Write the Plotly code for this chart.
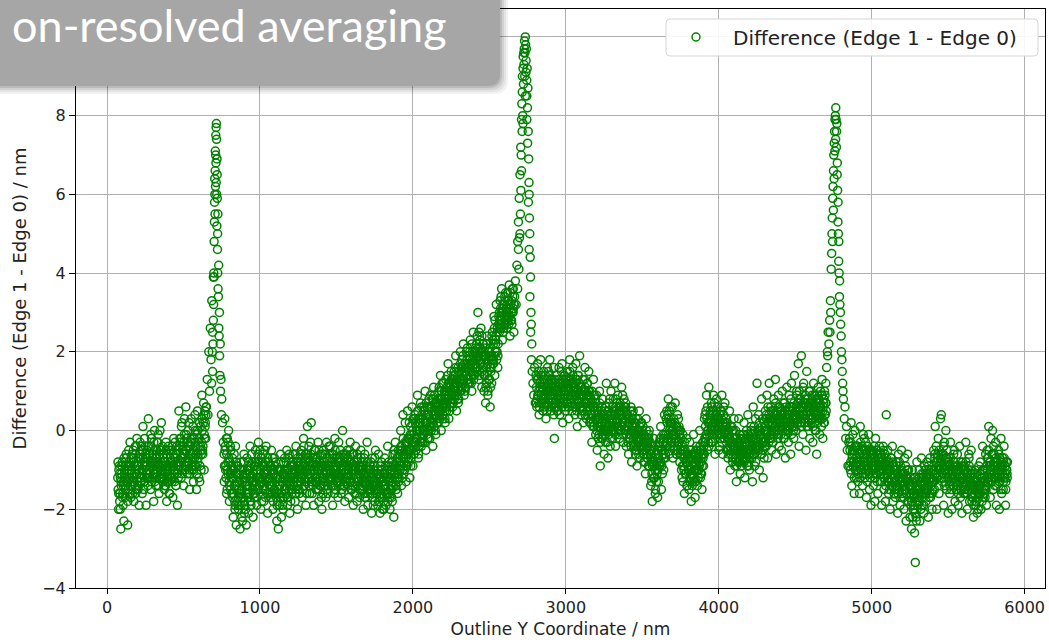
import plotly.graph_objects as go

# ---------------- data ----------------
STEP_NM = 5      # sampling step along the outline, nm
OFFSET_2 = 2.5   # second interleaved pass of samples, nm
OFFSET_3 = 1.25  # third interleaved pass of samples, nm

base_a_start = 70
base_a_y = [
    -1.2, -2.0, -0.9, -1.6, -2.5, -1.1, -0.8, -1.9, -2.3, -1.0,
    -1.5, -0.6, -1.3, -2.4, -0.9, -1.2, -0.3, -1.7, -1.0, -1.4,
    -0.7, -1.8, -1.1, -0.4, -1.5, -0.2, -1.3, -0.9, -1.9, -0.6,
    -1.2, -0.5, -1.6, 0.1, -0.8, -1.3, -0.4, -1.9, -0.7, -1.1,
    0.3, -1.0, -0.6, -1.5, -0.2, -1.2, -0.8, -1.8, 0.0, -0.9,
    -1.4, -0.5, -1.0, -0.1, -1.6, -0.7, -1.2, 0.2, -0.9, -1.3,
    -0.6, -1.5, -1.1, -0.3, -1.8, -0.9, -1.3, -0.5, -1.6, -1.0,
    -1.2, -0.4, -1.7, -0.8, -1.0, -0.3, -1.4, -0.6, -1.9, -0.9,
    0.5, -0.9, -0.3, -1.2, 0.2, -0.7, -1.4, -0.1, -0.8, 0.6,
    -0.5, -1.1, 0.0, -0.8, -1.5, -0.3, 0.3, -1.0, -0.6, -1.3,
    -0.2, 0.4, -0.9, -1.5, 0.0, -0.6, -1.2, 0.2, -0.4, -1.0,
    0.9, -0.5, 0.2, -1.0, 0.5, -0.2,
]
base_a_y2 = [
    -1.5, -1.0, -1.8, -1.2, -1.4, -0.9, -1.6, -1.3, -1.1, -1.7,
    -0.9, -1.3, -1.0, -1.5, -0.8, -1.2, -1.4, -0.7, -1.1, -1.6,
    -1.2, -0.8, -1.4, -0.6, -1.1, -0.9, -1.5, -1.0, -0.7, -1.3,
    -0.7, -1.1, -0.5, -1.0, -1.3, -0.8, -0.6, -1.2, -0.9, -1.4,
    -1.0, -0.6, -1.2, -0.4, -0.9, -0.7, -1.1, -0.5, -1.3, -0.8,
    -0.6, -1.0, -0.3, -0.9, -1.2, -0.5, -0.8, -1.1, -0.4, -0.7,
    -1.2, -0.8, -1.4, -1.0, -0.6, -1.1, -0.9, -1.3, -0.7, -1.2,
    -0.8, -1.2, -0.6, -1.0, -1.3, -0.7, -0.9, -1.1, -0.5, -1.0,
    -0.4, -0.8, -0.2, -0.7, -0.5, -1.0, -0.3, -0.6, -0.9, -0.1,
    -0.8, -0.3, -0.7, -1.0, -0.4, -0.6, -0.9, -0.2, -0.7, -0.5,
    -0.7, -0.3, -0.6, -0.1, -0.8, -0.4, -0.2, -0.9, -0.5, -0.3,
    0.0, -0.4, 0.4, -0.2, 0.2, 0.6,
]
base_a_y3 = [
    -0.8, -1.6, -1.1, -2.0, -1.3, -0.9, -1.7, -1.4, -0.7, -1.2,
    -1.4, -0.7, -1.2, -1.8, -0.5, -1.0, -1.6, -0.9, -1.3, -0.6,
    -0.5, -1.3, -0.9, -1.6, -0.4, -1.1, -0.7, -1.4, -1.0, -0.3,
    -1.3, -0.4, -1.0, -0.7, -1.5, -0.2, -0.9, -1.1, -0.5, -1.2,
    -0.4, -1.2, -0.8, -0.1, -1.3, -0.6, -1.0, -0.3, -1.1, -0.7,
    -1.1, -0.3, -0.8, -1.4, -0.6, 0.0, -1.0, -0.5, -1.2, -0.9,
    -0.7, -1.4, -0.9, -0.5, -1.3, -1.0, -0.4, -1.6, -1.1, -0.8,
    -0.5, -1.3, -0.9, -0.2, -1.1, -0.7, -1.4, -0.4, -0.8, -1.2,
    -0.9, -0.2, -0.7, 0.1, -1.1, -0.4, -0.6, 0.3, -1.0, -0.5,
    -0.2, -0.9, -0.4, 0.2, -1.1, -0.6, -0.3, -0.8, 0.1, -1.0,
    -0.9, 0.0, -0.4, -1.1, 0.5, -0.7, -0.2, -1.3, 0.1, -0.6,
    0.3, -0.6, 0.7, -0.1, 0.1, 0.4,
]

peak_a_start = 650
peak_a_y = [
    0.6, 1.3, 0.4, 2.0, 1.0, 2.6, 1.8, 3.3, 2.5, 3.9, 4.8, 6.0,
    7.0, 7.8, 6.5, 5.5, 4.2, 3.0, 2.2, 1.3, 0.8, 0.2, -0.3,
]

base_b_start = 765
base_b_y = [
    -0.6, 0.3, -1.0, -0.2, -1.5, -0.8, 0.0, -1.8, -1.1, -0.5,
    -1.6, -0.7, -2.2, -1.0, -1.8, -0.4, -2.4, -1.3, -0.9, -2.0,
    -1.1, -2.5, -0.8, -1.7, -2.3, -1.2, -0.6, -1.9, -1.4, -2.4,
    -0.7, -1.5, -2.1, -1.0, -0.4, -1.8, -1.2, -0.8, -2.2, -1.3,
    -1.6, -0.5, -1.2, -1.9, -0.8, -0.3, -1.4, -1.0, -2.0, -0.7,
    -1.3, -0.6, -1.8, -0.9, -1.5, -0.4, -1.1, -2.1, -0.8, -1.4,
    -0.9, -1.7, -0.5, -1.3, -2.0, -1.0, -0.7, -1.6, -1.2, -2.3,
    -1.8, -2.5, -1.0, -1.4, -0.6, -2.2, -1.1, -1.7, -0.8, -1.5,
    -1.0, -1.6, -0.5, -1.9, -1.2, -0.7, -2.1, -1.3, -0.9, -1.5,
    -0.6, -1.4, -1.0, -1.8, -0.4, -1.2, -2.0, -0.8, -1.5, -1.1,
    -1.3, -0.5, -1.7, -0.9, -0.2, -1.4, -1.0, -1.9, -0.6, 0.1,
    -1.1, -0.4, -1.6, -0.8, 0.2, -1.3, -0.7, -1.9, -1.0, -0.5,
    -1.5, -0.8, -1.2, -0.3, -1.8, -1.0, -0.6, -1.4, -2.0, -0.9,
    -0.5, -1.3, -0.9, -1.7, -0.3, -1.1, -1.6, -0.7, -1.2, -0.4,
    -1.4, -0.8, -1.9, -0.6, -1.1, -0.2, -1.5, -1.0, -0.7, -1.7,
    -0.3, -1.2, -0.8, -1.6, -1.0, 0.0, -1.4, -0.6, -1.8, -0.9,
    -1.3, -0.5, -1.1, -1.7, -0.8, -0.3, -1.5, -1.0, -0.6, -1.9,
    -1.0, -1.6, -0.4, -1.2, -1.8, -0.7, -1.3, -0.9, -1.5, -0.5,
    -1.4, -0.8, -2.0, -1.1, -0.6, -1.7, -1.3, -0.3, -1.9, -1.0,
    -1.5, -0.9, -1.2, -2.1, -0.7, -1.4, -1.0, -1.8, -0.5, -1.3,
    -1.1, -1.9, -0.6, -1.5, -2.1, -1.2, -0.8, -1.7, -1.4, -2.0,
    -0.7, -1.4, -1.9, -1.0, -0.4, -1.6, -1.2, -2.0, -0.9, -1.5,
    -1.8, -0.6, -2.2, -1.1, -0.3, -1.4, -0.8, -1.6, -0.5, -1.2,
    -0.9, 0.0, -1.4, -0.5, 0.4, -1.1, -0.6, 0.2, -1.3, -0.3,
    0.5, -0.8, -0.2, -1.2, 0.1, -0.5, 0.6, -0.9, -0.1, 0.3,
    0.4, -0.5, 0.0, 0.9, -0.7, 0.2, -0.3, 0.7, -0.4, 0.1,
    -0.3, 0.6, 0.0, 1.0, -0.5, 0.4, 0.2, -0.2, 0.8, 0.1,
    0.9, 0.0, 0.5, -0.4, 1.1, 0.3, 0.7, -0.1, 0.6, 0.2,
    0.2, 1.0, 0.5, 1.4, 0.0, 0.8, 0.4, 1.2, 0.7, 0.3,
    1.3, 0.5, 1.0, 1.7, 0.3, 1.1, 0.7, 1.5, 0.9, 0.6,
    0.7, 1.5, 1.0, 1.9, 0.5, 1.2, 1.6, 0.8, 1.3, 2.0,
    1.0, 1.8, 1.3, 2.2, 0.9, 1.5, 1.1, 2.0, 1.6, 1.2,
    1.9, 1.2, 2.3, 1.5, 1.0, 1.8, 2.5, 1.4, 1.7, 2.1,
    1.5, 2.4, 3.0, 1.3, 2.0, 1.7, 2.6, 1.1, 1.9, 2.2,
    1.0, 2.1, 0.7, 1.6, 2.4, 0.9, 1.3, 2.0, 0.6, 1.5,
    1.2, 2.5, 1.8, 2.9, 1.4, 2.2, 3.2, 2.0, 1.6, 2.7,
    2.5, 3.3, 2.7, 3.6, 2.3, 3.0, 2.6, 3.4, 2.8, 3.1,
    2.6, 3.5, 2.9, 3.7, 2.4, 3.2, 2.8, 3.6, 3.0, 2.5,
]
base_b_y2 = [
    -0.9, -0.4, -1.2, -0.6, -1.0, -0.3, -1.3, -0.8, -1.5, -1.1,
    -1.2, -1.6, -1.0, -1.4, -1.9, -1.1, -1.5, -0.9, -1.7, -1.3,
    -1.6, -1.2, -1.9, -1.5, -1.0, -1.7, -2.1, -1.3, -1.6, -1.1,
    -1.4, -1.0, -1.6, -1.2, -1.8, -0.9, -1.3, -1.5, -1.1, -1.7,
    -0.9, -1.3, -1.0, -1.5, -1.2, -0.8, -1.4, -1.1, -0.7, -1.3,
    -1.2, -0.9, -1.4, -1.1, -0.8, -1.3, -1.6, -1.0, -1.2, -0.9,
    -1.4, -1.0, -1.3, -1.6, -1.1, -1.5, -0.9, -1.2, -1.7, -1.0,
    -1.2, -1.6, -1.4, -1.0, -1.7, -1.3, -1.9, -1.1, -1.5, -1.2,
    -1.4, -1.1, -1.7, -1.0, -1.3, -1.5, -0.9, -1.2, -1.6, -1.1,
    -1.3, -0.9, -1.2, -1.5, -1.0, -0.8, -1.4, -1.1, -1.6, -1.0,
    -0.8, -1.2, -0.7, -1.1, -1.4, -0.9, -0.6, -1.3, -1.0, -0.7,
    -1.2, -0.8, -1.1, -0.6, -1.3, -0.9, -1.4, -1.0, -0.7, -1.2,
    -0.9, -1.3, -1.0, -1.5, -0.8, -1.2, -1.4, -0.9, -1.1, -1.6,
    -1.1, -0.8, -1.3, -1.0, -0.7, -1.4, -0.9, -1.2, -0.6, -1.1,
    -0.8, -1.2, -1.0, -1.4, -0.7, -1.1, -0.9, -1.3, -1.2, -0.8,
    -1.1, -0.7, -1.3, -0.9, -1.2, -0.6, -1.0, -1.4, -0.8, -1.1,
    -0.9, -1.2, -0.7, -1.0, -1.3, -0.8, -1.1, -0.6, -1.4, -1.0,
    -1.3, -0.9, -1.2, -0.8, -1.4, -1.0, -1.1, -1.5, -0.9, -1.2,
    -1.0, -1.4, -1.1, -1.6, -1.3, -0.9, -1.2, -1.5, -1.0, -1.4,
    -1.3, -1.0, -1.5, -1.2, -1.7, -1.1, -0.9, -1.4, -1.2, -1.6,
    -1.5, -1.1, -1.4, -1.7, -1.2, -1.6, -1.0, -1.3, -1.8, -1.2,
    -1.1, -1.5, -1.2, -1.6, -0.9, -1.3, -1.7, -1.1, -1.4, -1.0,
    -1.3, -0.9, -1.1, -0.6, -1.4, -1.0, -1.2, -0.7, -1.1, -0.8,
    -0.5, -0.9, -0.4, -1.0, -0.6, -0.8, -0.3, -0.7, -0.9, -0.5,
    -0.6, -0.2, -0.5, -0.1, -0.7, -0.3, 0.0, -0.4, -0.6, -0.2,
    -0.3, 0.1, -0.2, 0.3, -0.4, 0.0, 0.2, -0.3, 0.4, -0.1,
    0.3, -0.1, 0.5, 0.0, 0.2, 0.6, -0.2, 0.4, 0.1, 0.3,
    0.2, 0.6, 0.3, 0.8, 0.1, 0.5, 0.4, 0.7, 0.2, 0.5,
    0.8, 0.4, 0.7, 0.5, 1.0, 0.6, 0.3, 0.9, 0.5, 0.8,
    0.7, 1.1, 0.8, 1.2, 0.9, 0.6, 1.0, 1.3, 0.8, 1.1,
    1.2, 0.9, 1.4, 1.0, 1.3, 0.8, 1.1, 1.5, 1.2, 1.0,
    1.3, 1.6, 1.2, 1.5, 1.7, 1.1, 1.4, 1.8, 1.3, 1.6,
    1.5, 1.8, 1.4, 1.7, 2.0, 1.6, 1.3, 1.9, 1.6, 1.8,
    1.9, 1.6, 2.1, 1.8, 2.3, 1.7, 2.0, 1.5, 2.2, 1.9,
    1.8, 1.4, 1.9, 1.2, 1.7, 2.0, 1.3, 1.6, 1.1, 1.8,
    1.9, 2.3, 1.7, 2.6, 2.0, 2.4, 1.8, 2.5, 2.2, 2.7,
    2.8, 3.1, 2.6, 3.0, 3.2, 2.7, 2.9, 3.3, 3.0, 2.8,
    3.1, 2.8, 3.3, 2.9, 3.2, 3.0, 2.7, 3.4, 3.1, 3.2,
]
base_b_y3 = [
    -1.3, -0.5, -0.9, -1.6, -0.2, -1.1, -0.7, -1.4, -0.4, -1.0,
    -0.9, -1.7, -1.2, -0.6, -2.0, -1.4, -0.8, -1.1, -1.9, -1.5,
    -1.9, -1.0, -1.6, -2.2, -1.3, -0.8, -1.8, -1.1, -2.0, -1.4,
    -1.0, -1.7, -0.8, -1.4, -1.1, -1.9, -0.6, -1.3, -1.6, -0.9,
    -1.4, -0.8, -1.7, -1.0, -0.6, -1.5, -1.2, -0.5, -1.3, -1.8,
    -0.8, -1.5, -1.1, -0.5, -1.7, -1.0, -1.3, -0.7, -1.6, -1.2,
    -1.6, -0.9, -1.4, -0.7, -1.8, -1.1, -1.5, -0.8, -1.3, -1.9,
    -1.0, -1.5, -1.9, -1.2, -0.8, -1.6, -1.3, -2.0, -1.1, -0.7,
    -1.5, -0.8, -1.3, -1.7, -1.0, -0.6, -1.4, -1.8, -1.1, -0.9,
    -0.8, -1.4, -1.1, -0.6, -1.6, -1.2, -0.7, -1.5, -0.9, -1.3,
    -1.2, -0.6, -1.0, -1.5, -0.4, -1.1, -1.3, -0.7, -1.6, -0.9,
    -0.7, -1.4, -0.9, -0.3, -1.2, -1.6, -0.8, -1.1, -0.5, -1.3,
    -1.3, -0.7, -1.5, -1.0, -0.5, -1.4, -0.9, -1.7, -1.2, -0.6,
    -0.8, -1.4, -0.6, -1.1, -1.5, -0.9, -1.2, -0.4, -1.3, -1.0,
    -1.2, -0.6, -1.4, -0.9, -1.6, -0.5, -1.0, -1.3, -0.8, -1.1,
    -0.8, -1.4, -0.5, -1.1, -1.5, -0.9, -1.2, -0.7, -1.3, -0.6,
    -1.2, -0.7, -1.4, -0.9, -0.5, -1.3, -0.8, -1.5, -1.0, -0.6,
    -0.8, -1.4, -1.0, -1.6, -0.6, -1.2, -0.9, -1.7, -1.1, -0.7,
    -1.5, -0.9, -1.3, -0.7, -1.7, -1.1, -1.4, -0.8, -1.6, -1.2,
    -1.0, -1.6, -0.8, -1.4, -1.1, -1.9, -1.3, -0.7, -1.5, -1.2,
    -1.6, -1.0, -1.8, -1.2, -0.9, -1.5, -1.3, -2.0, -1.1, -1.4,
    -1.4, -0.9, -1.6, -1.1, -1.8, -0.8, -1.3, -1.5, -1.0, -1.7,
    -0.8, -1.4, -0.5, -1.2, -0.9, -1.5, -0.7, -1.1, -1.3, -0.6,
    -1.0, -0.4, -0.8, -1.2, -0.2, -0.7, -1.0, -0.5, -0.3, -0.9,
    -0.2, -0.7, 0.2, -0.5, -0.9, -0.1, -0.4, 0.3, -0.6, -0.3,
    0.2, -0.4, -0.1, 0.5, -0.6, 0.3, 0.0, -0.3, 0.6, -0.2,
    0.0, 0.5, -0.3, 0.2, 0.7, -0.1, 0.4, 0.0, 0.6, -0.2,
    0.6, 0.1, 0.8, 0.2, 0.4, 0.9, 0.0, 0.6, 0.3, 0.7,
    0.5, 1.1, 0.3, 0.8, 0.6, 1.2, 0.4, 0.7, 1.0, 0.2,
    1.0, 0.6, 1.4, 0.8, 1.2, 0.5, 1.1, 0.9, 1.3, 0.7,
    1.4, 0.8, 1.2, 1.6, 0.9, 1.3, 0.7, 1.5, 1.0, 1.7,
    1.6, 1.1, 1.9, 1.3, 1.5, 1.0, 1.7, 1.4, 2.1, 1.2,
    1.3, 2.0, 1.7, 1.2, 2.2, 1.5, 1.9, 1.4, 2.0, 1.6,
    2.2, 1.6, 1.9, 2.5, 1.4, 2.1, 1.8, 2.4, 1.6, 2.0,
    1.4, 1.9, 1.1, 2.2, 1.5, 1.0, 1.8, 1.3, 2.1, 1.6,
    2.4, 1.7, 2.2, 1.9, 2.8, 2.3, 2.0, 2.6, 1.9, 2.9,
    3.0, 2.6, 3.4, 2.8, 3.1, 2.5, 3.2, 2.7, 3.5, 2.9,
    2.9, 3.3, 2.7, 3.1, 3.5, 2.8, 3.3, 3.0, 3.6, 3.2,
]

peak_b_start = 2665
peak_b_y = [
    3.4, 3.8, 3.2, 4.2, 4.8, 5.3, 5.9, 6.5, 7.2, 7.9, 8.6, 9.2, 9.6, 9.9,
    10.0, 9.4, 8.5, 7.3, 5.8, 4.6, 3.4, 2.5, 1.8, 1.5, 1.2, 0.9, 1.6, 0.7,
]

base_c_start = 2805
base_c_y = [
    1.4, 0.6, 1.7, 0.9, 0.4, 1.2, 1.8, 0.7, 1.1, 0.5,
    1.5, 0.8, 1.3, 0.3, 1.0, 1.6, 0.6, 1.2, 1.8, 0.9,
    0.5, 1.3, 0.8, 1.6, -0.2, 1.0, 0.6, 1.4, 0.7, 1.1,
    1.6, 0.4, 1.2, 0.8, 1.7, 0.2, 1.0, 1.4, 0.6, 1.3,
    0.7, 1.5, 1.1, 0.3, 1.8, 0.9, 1.3, 0.5, 1.6, 1.0,
    1.2, 0.4, 1.7, 0.8, 0.1, 1.4, 0.9, 1.9, 0.6, 1.1,
    0.5, 1.3, 0.2, 1.0, 1.6, 0.7, 0.3, 1.2, 0.9, 1.5,
    1.0, 0.2, 0.8, -0.3, 0.6, 1.3, 0.1, 0.5, -0.1, 0.9,
    -0.5, 0.6, 0.1, 1.0, -0.9, 0.4, -0.2, 0.8, 0.0, -0.6,
    0.5, -0.3, 1.2, 0.0, -0.7, 0.7, 0.3, -0.4, 1.0, 0.1,
    -0.2, 0.8, 0.4, 1.2, -0.4, 0.5, 0.1, 0.9, -0.1, 0.6,
    0.7, 0.0, 1.1, 0.3, -0.3, 0.8, 0.2, 0.6, -0.4, 0.4,
    0.4, -0.6, 0.2, -0.2, 0.6, -0.8, 0.0, 0.5, -0.4, -0.1,
    -0.6, 0.3, -0.9, 0.0, -0.4, 0.5, -0.7, -0.1, 0.2, -0.5,
    0.1, -0.8, -0.3, -1.1, 0.3, -0.6, -0.2, -0.9, 0.0, -0.5,
    -1.4, -0.5, -1.8, -0.8, -0.2, -1.2, -1.6, -0.6, -1.0, -1.7,
    -1.3, -0.3, -0.9, 0.1, -1.5, -0.5, -0.1, -1.0, 0.4, -0.7,
    -0.4, 0.5, -0.2, 0.8, -0.6, 0.2, 0.6, -0.3, 0.0, -0.7,
    0.3, -0.5, 0.7, -0.1, -0.6, 0.4, -0.3, 0.1, -0.8, 0.0,
    -0.4, -1.2, -0.1, -0.9, -1.6, -0.5, -1.1, -0.2, -1.4, -0.7,
    -1.5, -0.3, -1.1, -1.8, -0.6, -1.3, -0.1, -0.9, -1.7, -0.5,
    -0.4, -1.4, -0.7, -1.0, 0.0, -1.2, -0.5, -1.5, -0.3, -0.9,
    -0.6, 0.4, -0.2, 0.9, -0.5, 0.2, 1.1, -0.1, 0.5, -0.3,
    0.6, -0.3, 0.9, 0.1, -0.6, 0.4, 0.8, -0.1, 0.3, -0.5,
    -0.4, 0.5, 0.0, 0.9, -0.6, 0.2, -0.2, 0.7, 0.1, -0.5,
    0.2, -0.7, -0.1, 0.5, -1.0, -0.3, 0.1, -0.8, -0.4, 0.3,
    -0.9, 0.0, -1.3, -0.4, -0.8, 0.3, -0.6, -1.1, -0.2, -0.7,
    -0.1, -0.8, 0.2, -1.2, -0.5, -0.2, -0.9, 0.4, -0.6, -1.0,
    -0.7, 0.1, -0.4, -1.3, 0.6, -0.2, -0.9, 0.3, -0.5, 1.2,
    -0.5, 0.4, -1.0, 0.0, -0.6, 0.8, -0.3, -1.2, 0.2, -0.4,
    0.5, -0.4, 0.9, -0.7, 0.2, 1.2, -0.2, 0.6, -0.5, 0.3,
    -0.3, 0.8, 0.1, 1.3, -0.6, 0.4, 0.0, 0.9, -0.4, 0.6,
    0.5, -0.5, 1.0, 0.2, -0.2, 0.7, -0.7, 0.3, 1.1, 0.0,
    -0.3, 0.9, 0.4, -0.6, 1.2, 0.1, 0.6, -0.2, 1.4, 0.3,
    0.0, 1.0, 0.5, 1.7, -0.4, 0.8, 0.2, 1.9, 0.6, -0.1,
    1.2, 0.3, 0.8, -0.5, 1.5, 0.1, 0.6, 1.0, -0.2, 0.4,
    0.2, 0.9, -0.3, 1.2, 0.5, 0.0, 0.8, -0.6, 0.4, 1.1,
    0.6, -0.1, 1.0, 0.3, 1.3, -0.2, 0.7, 0.2, 0.9, 1.2,
]
base_c_y2 = [
    1.1, 0.8, 1.3, 1.0, 0.7, 1.2, 0.9, 1.4, 1.0, 0.8,
    0.9, 1.2, 0.7, 1.1, 1.3, 0.8, 1.0, 1.4, 0.9, 1.1,
    1.0, 0.7, 1.1, 0.6, 0.9, 1.2, 0.8, 1.0, 0.5, 1.1,
    0.9, 1.2, 0.8, 1.1, 1.3, 0.7, 1.0, 0.9, 1.2, 1.0,
    1.2, 0.9, 1.0, 1.3, 0.8, 1.1, 0.7, 1.2, 1.0, 0.9,
    0.8, 1.1, 0.9, 1.3, 0.7, 1.0, 1.2, 0.6, 0.9, 1.1,
    0.9, 0.6, 1.0, 0.7, 1.1, 0.8, 0.5, 0.9, 1.0, 0.7,
    0.6, 0.3, 0.7, 0.4, 0.2, 0.6, 0.5, 0.8, 0.3, 0.4,
    0.1, 0.4, -0.1, 0.3, 0.0, 0.5, 0.2, -0.2, 0.3, 0.1,
    0.3, 0.0, 0.4, 0.1, 0.5, -0.1, 0.2, 0.4, 0.0, 0.3,
    0.2, 0.5, 0.1, 0.4, 0.6, 0.2, 0.3, 0.0, 0.4, 0.5,
    0.4, 0.1, 0.5, 0.2, 0.3, 0.6, 0.0, 0.3, 0.4, 0.1,
    0.1, -0.2, 0.2, -0.1, 0.0, 0.3, -0.3, 0.1, -0.1, 0.2,
    -0.1, -0.4, 0.0, -0.3, -0.2, 0.1, -0.4, -0.2, 0.0, -0.3,
    -0.3, -0.6, -0.2, -0.5, -0.4, -0.7, -0.3, -0.1, -0.5, -0.6,
    -0.8, -1.1, -0.7, -1.2, -0.9, -1.0, -0.6, -1.3, -0.8, -1.0,
    -0.7, -0.4, -0.8, -0.5, -0.9, -0.3, -0.6, -0.2, -0.5, -0.4,
    -0.1, 0.2, -0.2, 0.3, 0.0, 0.1, -0.3, 0.2, 0.0, -0.1,
    -0.1, -0.3, 0.1, -0.2, -0.4, 0.0, -0.3, -0.1, -0.5, -0.2,
    -0.6, -0.9, -0.5, -1.0, -0.7, -1.1, -0.8, -0.6, -0.9, -1.0,
    -1.0, -0.7, -1.2, -0.9, -1.1, -0.6, -1.0, -1.3, -0.8, -0.9,
    -0.7, -1.0, -0.6, -0.9, -0.5, -0.8, -1.1, -0.6, -0.7, -0.4,
    -0.2, 0.1, -0.1, 0.3, 0.0, -0.3, 0.2, 0.4, 0.0, 0.1,
    0.1, 0.4, 0.0, 0.3, 0.2, 0.5, -0.1, 0.3, 0.1, 0.2,
    0.2, -0.1, 0.3, 0.0, 0.1, 0.4, -0.2, 0.2, 0.0, -0.1,
    -0.2, -0.5, -0.1, -0.4, -0.3, -0.6, 0.0, -0.3, -0.5, -0.2,
    -0.4, -0.7, -0.3, -0.6, -0.5, -0.8, -0.4, -0.2, -0.6, -0.5,
    -0.5, -0.2, -0.6, -0.3, -0.7, -0.4, -0.1, -0.5, -0.3, -0.6,
    -0.2, -0.5, -0.1, -0.4, -0.3, -0.6, 0.0, -0.2, -0.4, -0.3,
    -0.3, 0.0, -0.4, -0.1, -0.2, 0.1, -0.5, -0.2, 0.0, -0.3,
    0.0, 0.3, -0.1, 0.2, 0.4, -0.2, 0.1, 0.3, 0.0, 0.2,
    0.3, 0.0, 0.4, 0.1, 0.5, 0.2, -0.1, 0.3, 0.2, 0.4,
    0.1, 0.4, 0.0, 0.3, 0.2, 0.5, -0.1, 0.2, 0.4, 0.1,
    0.4, 0.1, 0.5, 0.2, 0.6, 0.3, 0.0, 0.4, 0.2, 0.5,
    0.6, 0.3, 0.7, 0.4, 0.8, 0.5, 0.2, 0.6, 0.4, 0.7,
    0.4, 0.7, 0.3, 0.6, 0.5, 0.8, 0.2, 0.5, 0.7, 0.4,
    0.6, 0.3, 0.7, 0.5, 0.2, 0.6, 0.4, 0.8, 0.5, 0.3,
    0.4, 0.7, 0.5, 0.9, 0.3, 0.6, 0.8, 0.4, 0.7, 0.5,
]
base_c_y3 = [
    0.7, 1.3, 0.9, 1.5, 0.6, 1.1, 1.4, 0.8, 1.2, 0.5,
    1.2, 0.6, 1.4, 0.9, 0.5, 1.1, 1.5, 0.7, 1.0, 1.3,
    0.6, 1.2, 0.9, 0.4, 1.3, 0.7, 1.1, 0.5, 1.2, 0.8,
    1.3, 0.7, 1.0, 1.5, 0.6, 1.2, 0.8, 1.4, 0.5, 1.1,
    0.8, 1.3, 0.6, 1.1, 1.5, 0.7, 1.2, 0.9, 1.4, 0.6,
    1.1, 0.6, 1.3, 0.5, 1.0, 1.4, 0.7, 1.2, 0.8, 0.4,
    1.1, 0.5, 0.9, 1.3, 0.4, 1.0, 0.7, 1.2, 0.6, 0.9,
    0.2, 0.8, 0.4, 1.0, 0.1, 0.6, 0.9, 0.3, 0.7, 0.0,
    0.5, -0.2, 0.3, 0.7, -0.3, 0.2, 0.6, -0.1, 0.4, 0.0,
    -0.1, 0.6, 0.2, -0.3, 0.5, 0.1, 0.8, -0.2, 0.4, 0.0,
    0.6, 0.0, 0.5, -0.1, 0.8, 0.2, 0.7, 0.1, 0.5, -0.2,
    0.0, 0.6, 0.3, 0.9, -0.1, 0.5, 0.2, 0.7, 0.0, 0.4,
    -0.3, 0.3, -0.1, 0.5, -0.4, 0.1, 0.4, -0.2, 0.2, -0.5,
    0.1, -0.5, -0.2, 0.3, -0.6, 0.0, -0.3, 0.2, -0.4, -0.1,
    -0.6, -0.1, -0.8, -0.3, 0.0, -0.7, -0.4, -0.2, -0.9, -0.3,
    -0.6, -1.3, -0.9, -0.4, -1.2, -0.7, -1.5, -0.8, -1.1, -0.5,
    -0.4, -0.9, -0.2, -0.8, -0.5, -1.1, -0.3, -0.7, -0.1, -0.6,
    0.3, -0.3, 0.4, -0.1, 0.5, -0.4, 0.2, -0.2, 0.6, 0.1,
    -0.4, 0.2, -0.2, -0.6, 0.1, -0.5, 0.3, -0.3, 0.0, -0.6,
    -1.0, -0.5, -1.3, -0.7, -0.3, -1.1, -0.8, -1.4, -0.6, -1.0,
    -0.7, -1.3, -0.5, -1.1, -1.4, -0.8, -1.2, -0.6, -1.0, -1.3,
    -1.0, -0.5, -1.2, -0.8, -0.4, -1.1, -0.7, -0.9, -0.3, -0.6,
    0.3, -0.3, 0.5, -0.1, 0.6, 0.0, -0.4, 0.4, 0.2, 0.7,
    -0.1, 0.5, 0.2, 0.7, -0.2, 0.4, 0.0, 0.6, 0.3, -0.1,
    0.4, -0.2, 0.5, -0.3, 0.2, 0.6, 0.0, -0.1, 0.3, 0.1,
    -0.5, 0.0, -0.6, -0.2, 0.1, -0.5, -0.3, -0.7, 0.0, -0.4,
    -0.7, -0.2, -0.9, -0.5, -0.3, -0.8, -0.1, -0.6, -0.9, -0.4,
    -0.6, -0.1, -0.8, -0.3, -0.5, 0.0, -0.7, -0.2, -0.9, -0.4,
    -0.5, 0.0, -0.7, -0.2, -0.6, 0.1, -0.4, -0.8, -0.1, -0.3,
    0.0, -0.5, 0.2, -0.4, -0.1, -0.6, 0.3, -0.3, -0.7, 0.1,
    -0.2, 0.4, 0.0, 0.6, -0.3, 0.3, -0.1, 0.5, 0.2, -0.2,
    0.5, -0.1, 0.3, 0.7, 0.0, 0.4, -0.2, 0.6, 0.1, 0.2,
    -0.1, 0.5, 0.3, 0.7, -0.2, 0.4, 0.1, 0.6, 0.0, 0.3,
    0.0, 0.6, 0.2, 0.8, -0.1, 0.5, 0.3, 0.7, 0.1, 0.4,
    0.3, 0.9, 0.2, 0.7, 1.0, 0.4, 0.8, 0.1, 0.6, 1.1,
    0.7, 0.2, 0.9, 0.4, 0.1, 0.8, 0.3, 0.6, 1.0, 0.5,
    0.3, 0.8, 0.1, 0.6, 0.9, 0.4, 0.0, 0.7, 0.2, 0.8,
    0.8, 0.3, 0.6, 0.1, 0.9, 0.5, 0.2, 1.0, 0.4, 0.7,
]

peak_c_start = 4705
peak_c_y = [
    1.6, 2.0, 2.5, 2.2, 2.8, 3.3, 4.1, 5.0, 5.9, 6.6, 7.3, 7.9, 8.2, 7.6, 6.8,
    5.8, 4.8, 3.8, 3.0, 2.4, 1.8, 1.2, 0.8, 0.3, 0.6, -0.2, 0.1, -0.5, -0.9, -0.3,
]

base_d_start = 4855
base_d_y = [
    -0.2, -1.0, 0.2, -1.4, -0.5, -0.8, -1.6, 0.0, -0.9, -1.2,
    -0.4, -1.3, -0.8, -1.6, 0.1, -1.0, -0.5, -1.4, -0.1, -0.9,
    -1.2, -0.3, -1.7, -0.7, -1.0, -0.1, -1.5, -0.6, -1.9, -0.8,
    -0.5, -1.4, -0.9, -1.8, -0.2, -1.1, -0.6, -1.6, -1.0, -0.4,
    -1.3, -0.7, -1.9, -1.0, -0.4, -1.5, -0.8, -1.8, 0.4, -1.1,
    -0.5, -1.6, -1.0, -2.0, -0.7, -1.3, -0.4, -1.8, -1.1, -1.5,
    -1.7, -0.8, -1.4, -2.1, -0.6, -1.2, -1.9, -1.0, -0.5, -1.6,
    -1.1, -2.0, -0.7, -1.5, -2.3, -1.0, -0.6, -1.8, -1.3, -2.2,
    -1.4, -2.5, -1.0, -2.0, -1.7, -2.6, -1.2, -2.2, -0.8, -1.9,
    -1.6, -1.0, -2.3, -1.3, -0.7, -1.9, -1.2, -2.1, -0.9, -1.5,
    -1.8, -0.8, -1.4, -2.2, -1.0, -0.7, -1.7, -1.2, -2.0, -1.1,
    -0.5, -1.5, 0.1, -1.1, -2.0, -0.7, -0.2, -1.6, -0.9, 0.3,
    0.4, -1.2, -0.6, -1.9, -0.3, -1.0, 0.0, -1.5, -0.8, -2.1,
    -0.7, -1.6, -0.3, -1.2, -2.0, -0.9, -1.4, -0.5, -1.8, -1.0,
    -1.5, -0.6, -1.9, -1.1, -0.4, -1.7, -1.0, -2.1, -0.8, -1.3,
    -0.9, -1.6, -0.3, -1.4, -2.0, -1.0, -0.6, -1.8, -1.2, -0.5,
    -1.8, -1.1, -2.2, -1.4, -1.0, -1.9, -1.3, -2.1, -1.6, -0.9,
    -1.6, -0.8, -2.0, -1.2, -0.4, -1.7, -1.0, -1.5, -0.6, -1.9,
    -0.5, -1.3, 0.1, -0.9, -1.7, -0.2, -1.1, 0.0, -1.5, -0.6,
    -1.4, -0.3, -1.9, -0.8, -1.2, -0.5, -2.0, -0.9, -0.2, -1.6,
    -0.7, -1.5, -0.4, -1.2, -1.9, -0.8, -1.1,
]
base_d_y2 = [
    -0.5, -0.8, -0.4, -0.7, -0.9, -0.5, -0.6, -1.0, -0.4, -0.7,
    -0.8, -0.5, -0.9, -0.6, -1.0, -0.7, -0.4, -0.8, -0.6, -0.9,
    -0.7, -1.0, -0.6, -0.9, -0.8, -1.1, -0.5, -0.8, -1.0, -0.7,
    -0.9, -0.6, -1.0, -0.7, -0.8, -1.1, -0.5, -0.9, -0.7, -1.0,
    -0.8, -1.1, -0.7, -1.0, -0.9, -1.2, -0.6, -0.9, -1.1, -0.8,
    -1.0, -1.3, -0.9, -1.2, -1.1, -1.4, -0.8, -1.1, -1.3, -1.0,
    -1.3, -1.0, -1.4, -1.1, -1.5, -1.2, -0.9, -1.3, -1.1, -1.4,
    -1.4, -1.1, -1.5, -1.2, -1.6, -1.3, -1.0, -1.4, -1.7, -1.2,
    -1.5, -1.8, -1.4, -1.9, -1.6, -2.1, -1.3, -1.7, -1.5, -1.8,
    -1.5, -1.2, -1.6, -1.3, -1.7, -1.4, -1.1, -1.5, -1.3, -1.6,
    -1.2, -1.5, -1.1, -1.4, -1.3, -1.6, -1.0, -1.3, -1.5, -1.2,
    -1.0, -0.7, -1.1, -0.8, -1.2, -0.6, -0.9, -1.0, -0.7, -0.8,
    -0.8, -1.1, -0.6, -1.0, -0.9, -1.2, -0.7, -0.9, -1.1, -1.0,
    -1.2, -0.9, -1.3, -1.0, -1.1, -1.4, -0.8, -1.2, -1.0, -1.3,
    -1.1, -1.4, -1.0, -1.3, -1.2, -1.5, -0.9, -1.2, -1.4, -1.1,
    -1.3, -1.0, -1.4, -1.1, -1.2, -1.5, -0.9, -1.3, -1.1, -1.4,
    -1.4, -1.7, -1.3, -1.6, -1.5, -1.8, -1.2, -1.5, -1.7, -1.4,
    -1.4, -1.1, -1.5, -1.2, -1.3, -1.6, -1.0, -1.3, -1.5, -1.2,
    -1.0, -0.7, -1.1, -0.8, -0.9, -1.2, -0.6, -0.9, -1.1, -0.8,
    -0.9, -1.2, -0.8, -1.1, -1.0, -1.3, -0.7, -1.0, -1.2, -0.9,
    -1.1, -0.8, -1.2, -0.9, -1.3, -1.0, -0.8,
]
base_d_y3 = [
    -0.9, -0.3, -1.1, -0.6, -0.1, -0.8, -1.2, -0.4, -0.7, -1.0,
    -0.4, -1.1, -0.6, -1.2, -0.3, -0.9, -0.5, -1.1, -0.8, -0.2,
    -1.1, -0.5, -0.9, -1.3, -0.4, -1.0, -0.7, -1.2, -0.5, -0.9,
    -0.6, -1.1, -0.4, -1.2, -0.9, -0.5, -1.3, -0.7, -1.0, -0.6,
    -1.1, -0.6, -1.3, -0.8, -0.5, -1.2, -0.9, -1.4, -0.7, -1.0,
    -1.3, -0.8, -1.5, -1.0, -0.7, -1.4, -1.1, -0.9, -1.6, -1.2,
    -1.0, -1.5, -0.9, -1.6, -1.2, -0.8, -1.4, -1.1, -1.7, -1.3,
    -1.1, -1.7, -1.3, -0.9, -1.6, -1.2, -1.8, -1.0, -1.5, -1.4,
    -1.9, -1.3, -2.2, -1.6, -1.2, -2.0, -1.5, -2.3, -1.7, -1.4,
    -1.2, -1.8, -1.4, -2.0, -1.1, -1.6, -1.3, -1.9, -1.5, -1.0,
    -1.6, -1.1, -1.5, -0.9, -1.7, -1.2, -1.4, -1.0, -1.6, -1.3,
    -1.3, -0.6, -1.1, -0.4, -1.2, -0.8, -1.4, -0.5, -1.0, -0.7,
    -0.6, -1.3, -0.9, -0.4, -1.4, -0.7, -1.1, -0.5, -1.2, -0.8,
    -0.9, -1.4, -0.7, -1.5, -1.0, -1.2, -0.6, -1.3, -0.9, -1.5,
    -1.4, -0.9, -1.6, -1.0, -1.3, -0.8, -1.5, -1.2, -0.9, -1.6,
    -1.0, -1.5, -0.8, -1.6, -1.1, -1.3, -0.7, -1.4, -1.0, -1.6,
    -1.7, -1.2, -1.9, -1.4, -1.1, -1.8, -1.5, -1.3, -2.0, -1.6,
    -1.1, -1.6, -1.3, -1.8, -1.0, -1.5, -1.2, -1.7, -1.4, -0.9,
    -0.7, -1.2, -0.5, -1.1, -0.8, -1.3, -0.6, -1.0, -0.4, -1.2,
    -1.2, -0.7, -1.4, -0.9, -1.1, -0.6, -1.3, -0.8, -1.5, -1.0,
    -0.9, -1.3, -0.7, -1.1, -1.5, -1.0, -1.2,
]

# extra, more densely sampled points inside the three spikes (and one outlier)
spike_x = [
    684, 688, 690, 693, 695, 697, 698, 700, 702, 703, 704, 706, 707, 708, 709,
    711, 712, 713, 714, 716, 717, 718, 719, 721, 722, 723, 724, 726, 728, 731,
    733, 736, 738, 742, 748,
    2685, 2690, 2693, 2697, 2700, 2703, 2706, 2708, 2710, 2712, 2714, 2716, 2718,
    2720, 2721, 2723, 2726, 2728, 2731, 2733, 2735, 2737, 2739, 2742, 2744, 2745,
    2747, 2749, 2752, 2754, 2757, 2759, 2760, 2762, 2764, 2767, 2769, 2772, 2774, 2777,
    4712, 4727, 4732, 4738, 4742, 4744, 4747, 4749, 4752, 4754, 4757, 4759, 4762,
    4764, 4767, 4769, 4772, 4774, 4777, 4779, 4782, 4784, 4787, 4789, 4792, 4797,
    4802, 4807, 4812,
    5285,
]
spike_y = [
    1.2, 2.0, 1.5, 2.2, 2.8, 3.2, 4.0, 3.9, 5.3, 5.8, 6.4, 5.5, 6.6, 7.1, 6.2,
    7.5, 6.8, 7.7, 6.3, 7.4, 6.0, 5.2, 6.9, 5.9, 4.6, 5.0, 4.0, 3.6, 3.4, 2.6,
    2.4, 1.9, 1.4, 1.0, 0.4,
    3.6, 4.6, 4.1, 4.9, 5.0, 5.5, 6.1, 7.0, 6.6, 8.3, 7.6, 9.0, 8.0,
    7.8, 9.5, 8.8, 9.3, 9.7, 9.0, 9.6, 8.5, 9.8, 9.1, 9.7, 8.9, 7.9,
    9.2, 8.2, 8.7, 7.6, 6.9, 6.3, 6.0, 5.4, 5.0, 4.4, 3.9, 3.0, 2.7, 2.2,
    1.9, 2.5, 3.0, 4.5, 5.4, 4.8, 6.2, 5.6, 7.0, 6.4, 7.6, 7.1, 8.0,
    7.4, 7.9, 7.2, 7.8, 6.5, 6.1, 5.3, 5.0, 4.3, 4.0, 3.4, 3.2, 2.7,
    2.0, 1.5, 1.0,
    -3.35,
]

SERIES_NAME = "Difference (Edge 1 - Edge 0)"
X_TITLE = "Outline Y Coordinate / nm"
Y_TITLE = "Difference (Edge 1 - Edge 0) / nm"
BANNER_TEXT = "on-resolved averaging"
x_ticks = [0, 1000, 2000, 3000, 4000, 5000, 6000]
x_tick_labels = ["0", "1000", "2000", "3000", "4000", "5000", "6000"]
y_ticks = [-4, -2, 0, 2, 4, 6, 8, 10]
y_tick_labels = ["\u22124", "\u22122", "0", "2", "4", "6", "8", ""]  # "10" hidden under banner

# ---------------- assemble ----------------
segments = [
    (base_a_start, base_a_y), (peak_a_start, peak_a_y), (base_b_start, base_b_y),
    (peak_b_start, peak_b_y), (base_c_start, base_c_y), (peak_c_start, peak_c_y),
    (base_d_start, base_d_y),
    (base_a_start + OFFSET_2, base_a_y2), (base_b_start + OFFSET_2, base_b_y2),
    (base_c_start + OFFSET_2, base_c_y2), (base_d_start + OFFSET_2, base_d_y2),
    (base_a_start + OFFSET_3, base_a_y3), (base_b_start + OFFSET_3, base_b_y3),
    (base_c_start + OFFSET_3, base_c_y3), (base_d_start + OFFSET_3, base_d_y3),
]
xs, ys = [], []
for start, vals in segments:
    for i, v in enumerate(vals):
        xs.append(start + STEP_NM * i)
        ys.append(v)
xs += spike_x
ys += spike_y

W, H = 1049, 642
ML, MR, MT, MB = 76, 4, 9, 54
PW, PH = W - ML - MR, H - MT - MB


def px(p):
    return (p - ML) / PW


def py(p):
    return (H - MB - p) / PH


GREEN = "#008000"
fig = go.Figure()
fig.add_trace(go.Scatter(
    x=xs, y=ys, mode="markers", name=SERIES_NAME,
    marker=dict(symbol="circle-open", size=8, color=GREEN,
                line=dict(width=1.5, color=GREEN)),
))


def rounded_path(x0, y0, x1, y1, r):
    # pixel box (y down) -> paper-coordinate path with rounded corners
    rx, ry = r / PW, r / PH
    X0, X1 = px(x0), px(x1)
    Y0, Y1 = py(y0), py(y1)
    return (f"M {X0+rx},{Y0} L {X1-rx},{Y0} Q {X1},{Y0} {X1},{Y0-ry} "
            f"L {X1},{Y1+ry} Q {X1},{Y1} {X1-rx},{Y1} L {X0+rx},{Y1} "
            f"Q {X0},{Y1} {X0},{Y1+ry} L {X0},{Y0-ry} Q {X0},{Y0} {X0+rx},{Y0} Z")


shapes = []
for d, a in [(8, 0.05), (6, 0.06), (4, 0.08), (2, 0.10)]:
    shapes.append(dict(type="path", xref="paper", yref="paper", layer="above",
                       path=rounded_path(-40, -40, 500 + d, 86 + d, 14),
                       fillcolor=f"rgba(0,0,0,{a})", line=dict(width=0)))
shapes.append(dict(type="path", xref="paper", yref="paper", layer="above",
                   path=rounded_path(-40, -40, 500, 86, 12),
                   fillcolor="#a6a6a6", line=dict(width=0)))
shapes.append(dict(type="path", xref="paper", yref="paper", layer="above",
                   path=rounded_path(666, 19, 1038, 56, 4),
                   fillcolor="rgba(255,255,255,0.9)",
                   line=dict(width=1, color="#d5d5d5")))

fig.update_layout(
    width=W, height=H,
    margin=dict(l=ML, r=MR, t=MT, b=MB, autoexpand=False),
    paper_bgcolor="white", plot_bgcolor="white",
    font=dict(family="DejaVu Sans", color="#222222", size=16),
    showlegend=True,
    legend=dict(x=px(659), xanchor="left", y=py(37), yanchor="middle",
                bgcolor="rgba(0,0,0,0)", borderwidth=0, itemwidth=64,
                font=dict(family="DejaVu Sans", size=20, color="#222222")),
    shapes=shapes,
    annotations=[dict(text=BANNER_TEXT, xref="paper", yref="paper",
                      x=px(449), y=py(25), xanchor="right", yanchor="middle",
                      showarrow=False,
                      font=dict(family="Lato", size=45, color="white"))],
)
fig.update_xaxes(
    range=[-203, 6133], tickvals=x_ticks, ticktext=x_tick_labels,
    ticks="outside", ticklen=5,
    tickcolor="black", tickwidth=1, showline=True, linecolor="black",
    linewidth=1, mirror=True, showgrid=True, gridcolor="#b0b0b0", gridwidth=1,
    zeroline=False, tickfont=dict(size=16),
    title=dict(text=X_TITLE, font=dict(size=17), standoff=6),
)
fig.update_yaxes(
    range=[-4.0, 10.71], tickvals=y_ticks, ticktext=y_tick_labels,
    ticks="outside", ticklen=6,
    tickcolor="black", tickwidth=1, showline=True, linecolor="black",
    linewidth=1, mirror=True, showgrid=True, gridcolor="#b0b0b0", gridwidth=1,
    zeroline=False, tickfont=dict(size=16),
    title=dict(text=Y_TITLE, font=dict(size=18), standoff=10),
)

fig.write_html("out.html")
